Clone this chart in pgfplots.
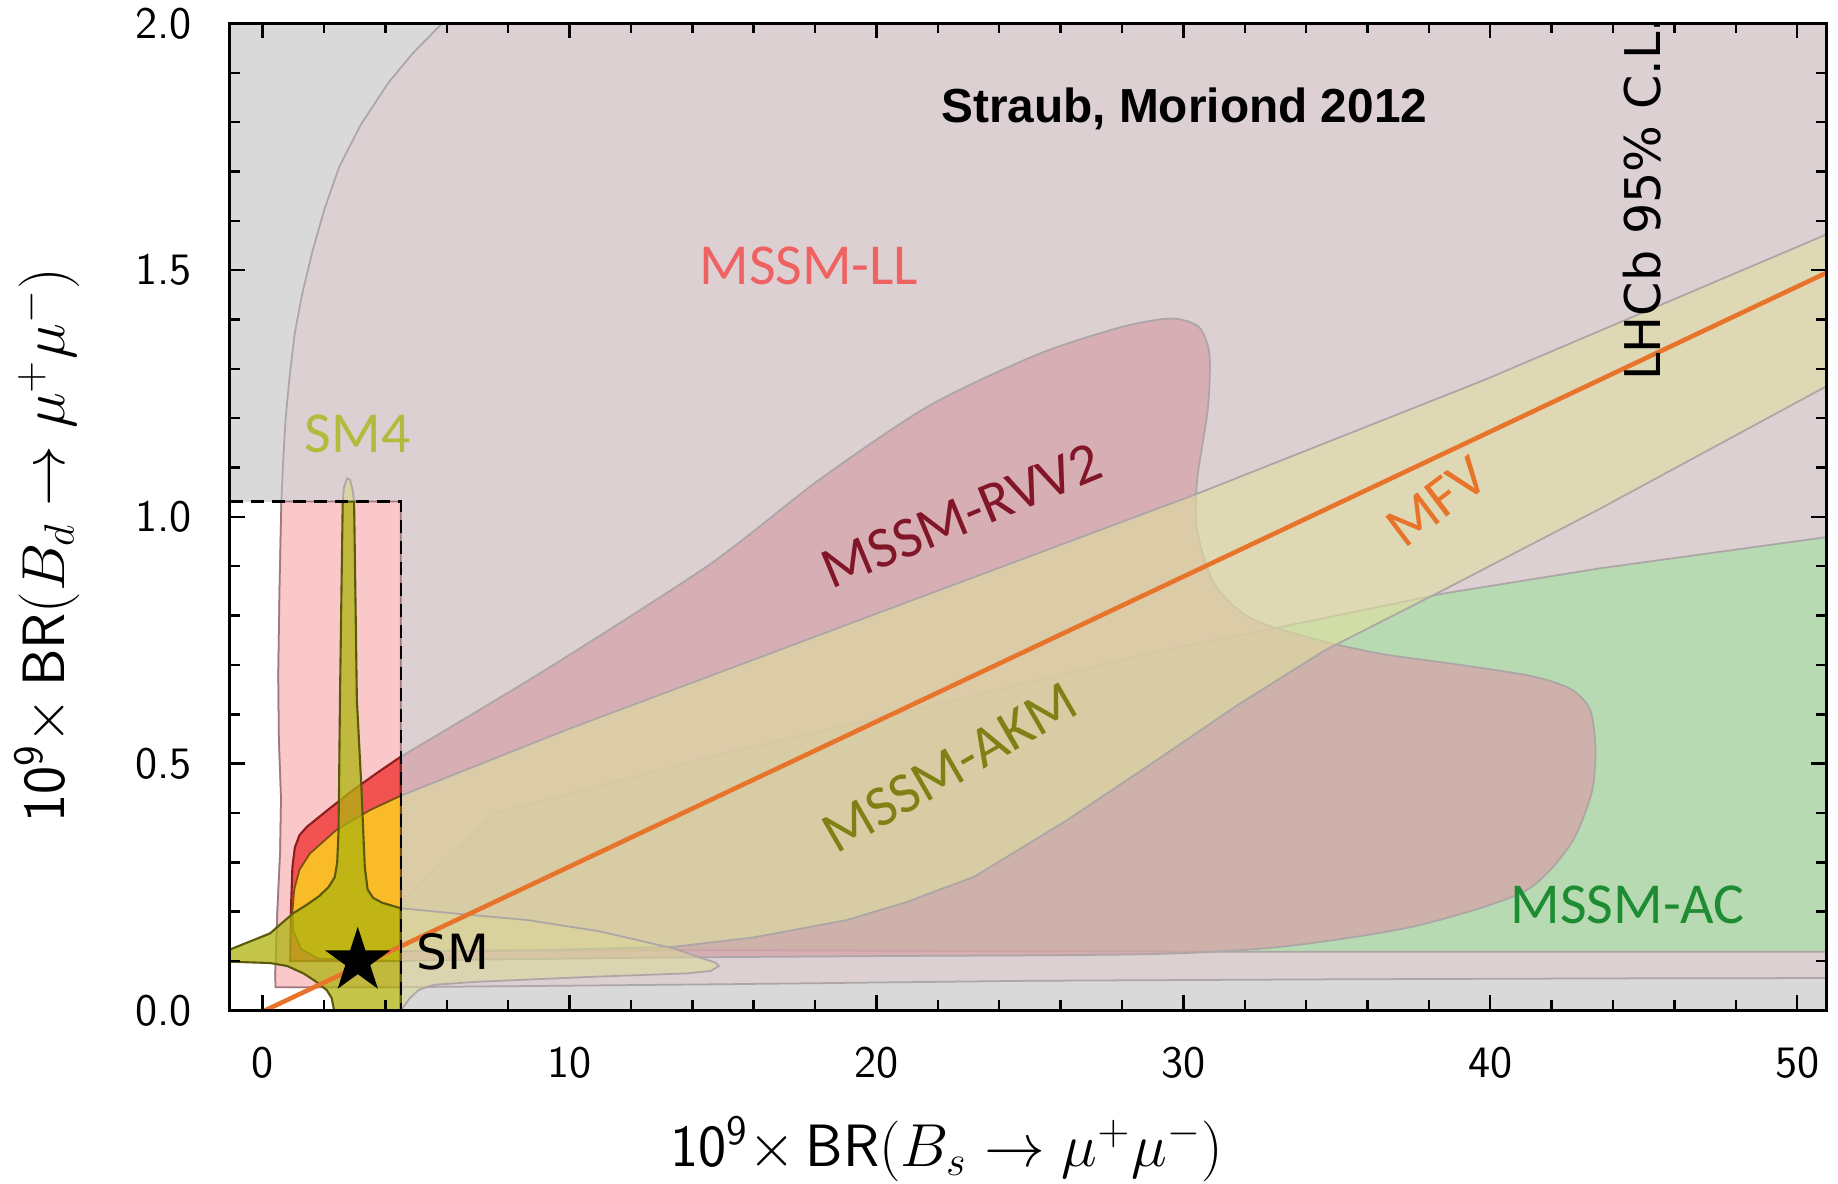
\documentclass[border=0pt]{standalone}
\usepackage{pgfplots}
\pgfplotsset{compat=1.18}
\usepackage{fontspec}
\newfontfamily\carlito{Carlito}
\newfontfamily\dejavu{DejaVu Sans}
\newfontfamily\libsans{Liberation Sans}

\definecolor{bggray}{RGB}{217,217,217}
\definecolor{llfade}{RGB}{221,208,210}
\definecolor{llviv}{RGB}{250,200,201}
\definecolor{acgreen}{RGB}{184,218,178}
\definecolor{rvvfade}{RGB}{214,162,168}
\definecolor{rvvviv}{RGB}{242,82,82}
\definecolor{akmfade}{RGB}{224,223,160}
\definecolor{akmviv}{RGB}{249,187,40}
\definecolor{smfade}{RGB}{218,216,150}
\definecolor{smviv}{RGB}{175,180,15}
\definecolor{edgegray}{RGB}{172,166,166}
\definecolor{mfvorange}{RGB}{232,116,44}
\definecolor{tLL}{RGB}{240,98,98}
\definecolor{tRVV}{RGB}{128,22,40}
\definecolor{tAKM}{RGB}{128,128,20}
\definecolor{tAC}{RGB}{30,140,50}
\definecolor{tSM4}{RGB}{178,188,60}
\definecolor{pinkedge}{RGB}{160,120,130}
\definecolor{rededge}{RGB}{140,30,30}
\definecolor{orangeedge}{RGB}{120,80,20}
\definecolor{oliveedge}{RGB}{90,90,10}

\pgfdeclareplotmark{fstar}{%
  \pgfpathmoveto{\pgfpointpolar{90}{\pgfplotmarksize}}%
  \pgfpathlineto{\pgfpointpolar{126}{0.382\pgfplotmarksize}}%
  \pgfpathlineto{\pgfpointpolar{162}{\pgfplotmarksize}}%
  \pgfpathlineto{\pgfpointpolar{198}{0.382\pgfplotmarksize}}%
  \pgfpathlineto{\pgfpointpolar{234}{\pgfplotmarksize}}%
  \pgfpathlineto{\pgfpointpolar{270}{0.382\pgfplotmarksize}}%
  \pgfpathlineto{\pgfpointpolar{306}{\pgfplotmarksize}}%
  \pgfpathlineto{\pgfpointpolar{342}{0.382\pgfplotmarksize}}%
  \pgfpathlineto{\pgfpointpolar{18}{\pgfplotmarksize}}%
  \pgfpathlineto{\pgfpointpolar{54}{0.382\pgfplotmarksize}}%
  \pgfpathclose
  \pgfusepathqfillstroke
}

\begin{document}
\begin{tikzpicture}
\begin{axis}[
  at={(0,0)}, anchor=south west,
  scale only axis, width=159.65mm, height=98.7mm,
  xmin=-1.07, xmax=50.95, ymin=0, ymax=2,
  axis background/.style={fill=bggray},
  axis on top,
  axis line style={line width=0.8pt},
  tick align=inside,
  xtick={0,10,20,30,40,50}, minor x tick num=4,
  ytick={0,0.5,1,1.5,2}, minor y tick num=4,
  major tick length=1.5mm, minor tick length=1mm,
  tick style={line width=0.7pt, black},
  ticklabel style={font=\sffamily\fontsize{12.8}{12.8}\selectfont},
  /pgf/number format/assume math mode=true,
  yticklabel style={/pgf/number format/.cd, fixed, fixed zerofill, precision=1, /tikz/.cd, xshift=-2.6mm},
  xticklabel style={yshift=-2.4mm},
  label style={font=\fontsize{17}{17}\selectfont},
  xlabel={\textsf{10}$^{\mathsf{9}}\times$\,\textsf{BR}$(B_s\to\mu^+\mu^-)$},
  ylabel={\textsf{10}$^{\mathsf{9}}\times$\,\textsf{BR}$(B_d\to\mu^+\mu^-)$},
  xlabel style={at={(axis description cs:0.449,-0.1402)}, anchor=center},
  ylabel style={at={(axis description cs:-0.1146,0.4715)}, anchor=center},
]

% white allowed box
\addplot[fill=white, draw=none, forget plot] coordinates {(-1.2,0) (4.5,0) (4.5,1.031) (-1.2,1.031)} -- cycle;

% MSSM-LL faded
\addplot[fill=llfade, draw=edgegray, line width=0.5pt, forget plot] coordinates {
 (6.7,2.06) (30,2.12) (56,2.12) (56,0.066) (45,0.065) (35,0.063) (25,0.06) (15,0.053) (8,0.049) (4.5,0.047)
 (2,0.047) (0.8,0.047) (0.45,0.048) (0.41,0.07) (0.44,0.13)
 (0.48,0.2) (0.57,0.32) (0.6,0.43) (0.53,0.55) (0.51,0.68) (0.55,0.85) (0.61,1.03) (0.67,1.115) (0.75,1.2)
 (0.88,1.285) (1.04,1.37) (1.3,1.455) (1.63,1.54) (2.02,1.625) (2.5,1.71) (3.2,1.795) (4.1,1.88) (4.9,1.94) (5.85,2.0)} -- cycle;

% MSSM-LL vivid in box
\addplot[fill=llviv, draw=pinkedge, line width=0.5pt, forget plot] coordinates {
 (0.42,0.047) (4.5,0.047) (4.5,1.031) (0.61,1.031) (0.55,0.85) (0.51,0.68) (0.53,0.55) (0.6,0.43) (0.57,0.32) (0.48,0.2) (0.44,0.13) (0.41,0.07)} -- cycle;

% MSSM-AC green
\addplot[fill=acgreen, draw=edgegray, line width=0.5pt, forget plot] coordinates {
 (4.5,0.12) (4.5,0.22) (7.6,0.40) (15,0.52) (22,0.62) (28.9,0.724) (33.27,0.778)
 (38.5,0.845) (43.6,0.896) (52,0.968) (52,0.119) (30,0.119) (15,0.122)} -- cycle;

% MSSM-RVV2 faded
\addplot[fill=rvvfade, fill opacity=0.73, draw=edgegray, line width=0.5pt, smooth, tension=0.45, forget plot] coordinates {
 (4.5,0.514) (9.19,0.689) (14.55,0.903) (18.13,1.075) (21.71,1.225) (25.28,1.33)
 (28.0,1.385) (29.6,1.402) (30.5,1.385) (30.85,1.33) (30.8,1.22) (30.45,1.075) (30.45,0.973)
 (31.0,0.865) (32.18,0.795) (34.36,0.751) (36.5,0.722) (38.7,0.703) (41.3,0.678) (42.6,0.652)
 (43.25,0.61) (43.43,0.53) (43.3,0.44) (42.6,0.335) (41.08,0.24) (37.5,0.17) (33.2,0.129) (28.9,0.114)
 (20,0.11) (13,0.107) (6,0.102) (4.5,0.10)} -- cycle;

% MSSM-AKM band faded
\addplot[fill=akmfade, fill opacity=0.6, draw=edgegray, line width=0.5pt, forget plot] coordinates {
 (4.5,0.435) (10,0.571) (20,0.804) (30.33,1.044) (39.79,1.277) (52,1.60)
 (52,1.30) (43.59,1.017) (38.48,0.852) (34.62,0.73) (31.8,0.62) (29.2,0.51) (26.2,0.385) (23.19,0.271)
 (21,0.22) (19.03,0.183) (16,0.148) (13.42,0.129) (9,0.122) (4.5,0.12)} -- cycle;

% SM4 faded tongue and tip
\addplot[fill=smfade, fill opacity=0.55, draw=edgegray, line width=0.5pt, forget plot] coordinates {
 (4.5,0.207) (6.5,0.195) (8.64,0.183) (11,0.16) (13.42,0.125) (14.3,0.106) (14.75,0.097) (14.87,0.09)
 (14.6,0.08) (13.83,0.075) (10.7,0.068) (7,0.058) (5.6,0.052) (5.1,0.042) (4.8,0.025) (4.6,0.008) (4.5,0)} -- cycle;
\addplot[fill=smfade, fill opacity=0.7, draw=edgegray, line width=0.5pt, forget plot] coordinates {
 (2.61,1.031) (2.65,1.06) (2.75,1.078) (2.85,1.075) (2.93,1.055) (2.98,1.031)} -- cycle;

% RVV2 vivid in box
\addplot[fill=rvvviv, draw=rededge, line width=0.6pt, forget plot] coordinates {
 (4.5,0.514) (3.7,0.48) (2.96,0.447) (2.2,0.41) (1.44,0.372) (1.2,0.355) (1.05,0.33)
 (0.97,0.29) (0.92,0.2) (0.9,0.1) (4.5,0.1)} -- cycle;

% AKM vivid in box
\addplot[fill=akmviv, draw=orangeedge, line width=0.5pt, forget plot] coordinates {
 (4.5,0.435) (3.5,0.406) (2.41,0.366) (1.54,0.318) (1.2,0.285) (1.03,0.245) (0.97,0.2)
 (1.0,0.16) (1.25,0.125) (1.8,0.105) (4.5,0.1)} -- cycle;

% SM4 vivid in box
\addplot[fill=smviv, fill opacity=0.75, draw=oliveedge, line width=0.6pt, forget plot] coordinates {
 (-1.2,0.12) (0.24,0.156) (1.0,0.197) (1.44,0.214) (1.85,0.232) (2.15,0.25) (2.35,0.27) (2.43,0.3) (2.47,0.36)
 (2.49,0.45) (2.52,0.63) (2.58,0.9) (2.61,1.031) (2.98,1.031) (3.01,0.9) (3.07,0.63)
 (3.22,0.45) (3.28,0.36) (3.33,0.29) (3.42,0.245) (3.6,0.228) (3.9,0.218) (4.5,0.207) (4.5,-0.01) (2.36,-0.01)
 (2.25,0.025) (2.09,0.041) (1.7,0.06) (1.33,0.075) (0.8,0.09) (0.24,0.096) (-1.2,0.099)} -- cycle;

% MFV line
\addplot[mfvorange, line width=1.3pt, forget plot] coordinates {(0.08,0) (51,1.496)};

% LHCb box
\addplot[black, line width=0.7pt, dash pattern=on 1.3mm off 0.8mm, forget plot] coordinates {(-1.07,1.031) (4.5,1.031) (4.5,0)};

% SM point
\addplot[only marks, mark=fstar, mark size=3.2mm, mark options={fill=black, draw=black}, forget plot] coordinates {(3.1,0.1)};

% labels
\node[font=\libsans\bfseries\fontsize{13.6}{13.6}\selectfont] at (axis cs:30.03,1.827) {Straub, Moriond 2012};
\node[font=\carlito\fontsize{16.5}{16.5}\selectfont, text=tLL] at (axis cs:17.8,1.508) {MSSM-LL};
\node[font=\carlito\fontsize{16.5}{16.5}\selectfont, text=tSM4] at (axis cs:3.1,1.169) {SM4};
\node[font=\carlito\fontsize{16.5}{16.5}\selectfont, text=tRVV, rotate=22.5] at (axis cs:22.77,1.002) {MSSM-RVV2};
\node[font=\carlito\fontsize{16.5}{16.5}\selectfont, text=mfvorange, rotate=37] at (axis cs:38.25,1.031) {MFV};
\node[font=\carlito\fontsize{16.5}{16.5}\selectfont, text=tAKM, rotate=30] at (axis cs:22.39,0.492) {MSSM-AKM};
\node[font=\carlito\fontsize{16.5}{16.5}\selectfont, text=tAC] at (axis cs:44.48,0.214) {MSSM-AC};
\node[font=\dejavu\fontsize{13.8}{13.8}\selectfont, anchor=west, inner sep=0pt] at (axis cs:5.0,0.119) {SM};
\node[font=\dejavu\fontsize{14}{14}\selectfont, rotate=90] at (axis cs:44.94,1.645) {LHCb 95\% C.L.};
\end{axis}
\pgfresetboundingbox
\path[use as bounding box] (-22.98mm,-17.26mm) rectangle (160.82mm,101.04mm);
\end{tikzpicture}
\end{document}
